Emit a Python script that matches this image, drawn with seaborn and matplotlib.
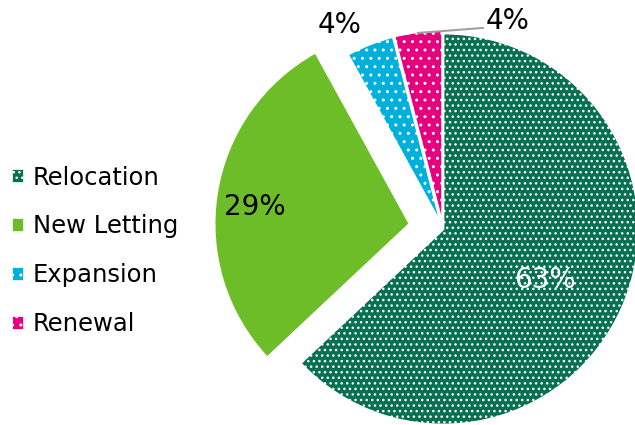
import matplotlib
matplotlib.use("Agg")
import matplotlib.pyplot as plt
from matplotlib.patches import Patch
import seaborn as sns

categories = ["Relocation", "New Letting", "Expansion", "Renewal"]
shares = [63, 29, 4, 4]
colors = ["#06704f", "#6dbd28", "#00b0dc", "#e6007e"]
hatches = ["...", None, "..", ".."]
explode = [0.0, 0.17, 0.015, 0.015]

sns.set_style("white")
plt.rcParams["font.family"] = ["DejaVu Sans"]
plt.rcParams["hatch.linewidth"] = 1.0

fig = plt.figure(figsize=(6.35, 4.25), dpi=100)
ax = fig.add_axes([0, 0, 1, 1])

wedges, _ = ax.pie(
    shares, colors=colors, explode=explode, startangle=90, counterclock=False,
    radius=1.0, wedgeprops=dict(edgecolor="white", linewidth=2.0),
)
for w, h in zip(wedges, hatches):
    if h:
        w.set_hatch(h)

# viewport: pie centre sits right of middle and is clipped at right/bottom
ax.set_xlim(-443 / 196, (635 - 443) / 196)
ax.set_ylim(-(425 - 229) / 196, 229 / 196)
ax.set_aspect("auto")
ax.axis("off")

lab = [f"{v}%" for v in shares]
ax.text(0.52, -0.26, lab[0], color="white", fontsize=20, ha="center", va="center")
ax.text(-0.96, 0.11, lab[1], color="black", fontsize=20, ha="center", va="center")
ax.text(-0.53, 1.04, lab[2], color="black", fontsize=20, ha="center", va="center")
ax.text(0.33, 1.06, lab[3], color="black", fontsize=20, ha="center", va="center")
ax.plot([-0.13, 0.205], [1.0, 1.026], color="#a0a0a0", lw=1.5, clip_on=False)

handles = [Patch(facecolor=c, edgecolor="white", hatch=h, linewidth=0.5)
           for c, h in zip(colors, hatches)]
leg = fig.legend(handles, categories, loc="center left", bbox_to_anchor=(0.0, 0.41),
                 frameon=False, fontsize=17.5, handlelength=0.45, handleheight=0.45,
                 handletextpad=0.4, labelspacing=1.02, borderaxespad=0.1)
for t in leg.get_texts():
    t.set_color("black")

fig.savefig("out.png", dpi=100)
